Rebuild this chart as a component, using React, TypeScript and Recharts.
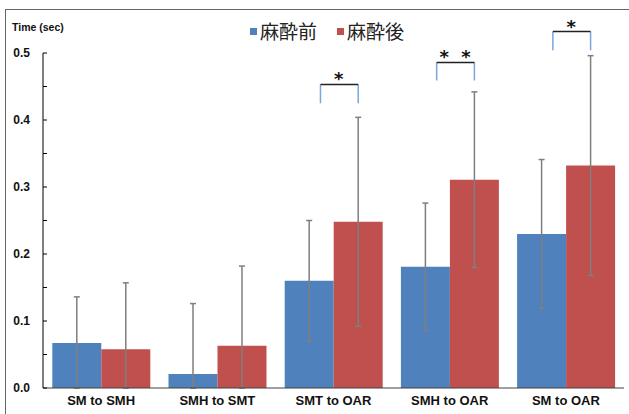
import { BarChart, Bar, XAxis, YAxis, ErrorBar, LabelList, Legend } from 'recharts';

const categories = ['SM to SMH', 'SMH to SMT', 'SMT to OAR', 'SMH to OAR', 'SM to OAR'];
const before = [0.067, 0.021, 0.160, 0.181, 0.230];
const after = [0.058, 0.063, 0.248, 0.311, 0.332];
const beforeSd = [0.069, 0.105, 0.090, 0.095, 0.111];
const afterSd = [0.099, 0.119, 0.156, 0.131, 0.164];
const stars = ['', '', '*', '* *', '*'];
const bracketBottom = [null, null, 0.425, 0.459, 0.504];
const bracketTop = [null, null, 0.453, 0.486, 0.532];
const yTicks = [0, 0.05, 0.1, 0.15, 0.2, 0.25, 0.3, 0.35, 0.4, 0.45, 0.5];

const BLUE = '#4F81BD';
const RED = '#C0504D';

// error bars are cut at the axis, like the original
const data = categories.map((name, i) => ({
  name,
  before: before[i],
  after: after[i],
  beforeErr: [Math.min(beforeSd[i], before[i]), beforeSd[i]],
  afterErr: [Math.min(afterSd[i], after[i]), afterSd[i]],
}));

const YTick = ({ x, y, payload }: any) => {
  const major = Math.round(payload.value * 100) % 10 === 0;
  return (
    <g>
      <line x1={x} x2={x + 4} y1={y} y2={y} stroke="#000" strokeWidth={1} />
      {major && (
        <text x={x - 13} y={y} textAnchor="end" dominantBaseline="central"
          style={{ fontFamily: 'Liberation Sans, Arial', fontWeight: 700, fontSize: 12, fill: '#111' }}>
          {payload.value.toFixed(1)}
        </text>
      )}
    </g>
  );
};

const Bracket = (props: any) => {
  const vb = props.viewBox || props;
  const i = props.index ?? after.indexOf(props.value);
  if (i < 0 || bracketTop[i] == null) return null;
  const base = vb.y + vb.height;
  const k = vb.height / after[i];
  const yTop = base - (bracketTop[i] as number) * k;
  const yBot = base - (bracketBottom[i] as number) * k;
  const right = vb.x + vb.width / 2;
  const left = right - vb.width * 0.77;
  return (
    <g>
      <line x1={left} x2={left} y1={yTop} y2={yBot} stroke="#7aa6da" strokeWidth={1.5} />
      <line x1={right} x2={right} y1={yTop} y2={yBot} stroke="#7aa6da" strokeWidth={1.5} />
      <line x1={left} x2={right} y1={yTop} y2={yTop} stroke="#222" strokeWidth={1.5} />
      <text x={(left + right) / 2 + 1} y={yTop + 1} textAnchor="middle" xmlSpace="preserve"
        style={{ fontFamily: 'DejaVu Sans', fontWeight: 700, fontSize: 18, letterSpacing: 3, fill: '#111' }}>
        {stars[i]}
      </text>
    </g>
  );
};

const LegendBox = () => (
  <div style={{ display: 'flex', alignItems: 'center', fontFamily: '"Noto Sans CJK JP"', fontSize: 19, lineHeight: '22px', color: '#222', whiteSpace: 'nowrap' }}>
    <span style={{ width: 7, height: 7, background: BLUE, marginRight: 3 }} />
    <span>麻酔前</span>
    <span style={{ width: 7, height: 7, background: RED, marginLeft: 20, marginRight: 3 }} />
    <span>麻酔後</span>
  </div>
);

export default function App() {
  return (
    <div style={{ position: 'absolute', left: 0, top: 0, width: 629, height: 414, background: '#fff' }}>
      <div style={{ position: 'absolute', left: 5, top: 9, width: 630, height: 410, borderLeft: '1.5px solid #666', borderTop: '1.5px solid #666', pointerEvents: 'none' }} />
      <div style={{ position: 'absolute', left: 12, top: 21, fontFamily: 'Liberation Sans, Arial', fontWeight: 700, fontSize: 10.5, color: '#111' }}>
        Time (sec)
      </div>
      <BarChart width={629} height={414} data={data} margin={{ top: 53, right: 5, bottom: 4, left: 10 }}
        barCategoryGap="8%" barGap={0}>
        <XAxis dataKey="name" height={22} tickLine={false} tickSize={0} tickMargin={8}
          axisLine={{ stroke: '#404040', strokeWidth: 1.2 }}
          tick={{ fontFamily: 'Liberation Sans, Arial', fontWeight: 700, fontSize: 13, fill: '#111' }} />
        <YAxis width={33} domain={[0, 0.5]} ticks={yTicks} interval={0} tickLine={false} tickSize={0} tickMargin={0}
          axisLine={{ stroke: '#000', strokeWidth: 1 }} tick={<YTick />} />
        <Legend layout="horizontal" verticalAlign="middle" align="center"
          wrapperStyle={{ top: 20, left: 250, width: 200 }} content={<LegendBox />} />
        <Bar dataKey="before" fill={BLUE} isAnimationActive={false}>
          <ErrorBar dataKey="beforeErr" width={3} stroke="#7f7f7f" strokeWidth={1.5} direction="y" isAnimationActive={false} />
        </Bar>
        <Bar dataKey="after" fill={RED} isAnimationActive={false}>
          <ErrorBar dataKey="afterErr" width={3} stroke="#7f7f7f" strokeWidth={1.5} direction="y" isAnimationActive={false} />
          <LabelList dataKey="after" content={<Bracket />} />
        </Bar>
      </BarChart>
    </div>
  );
}
